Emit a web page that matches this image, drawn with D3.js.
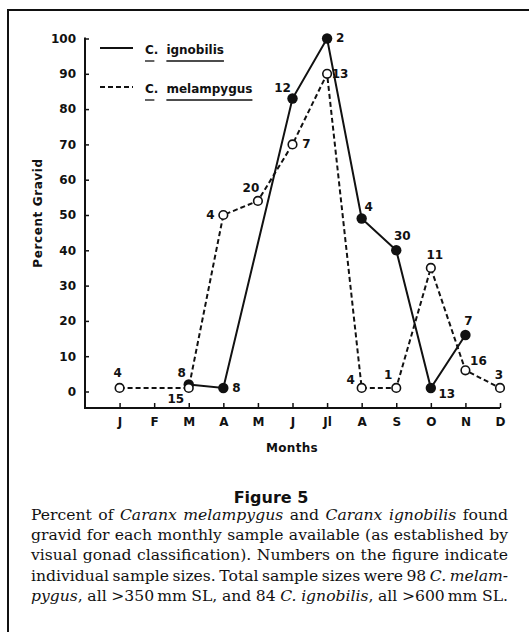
<!DOCTYPE html>
<html>
<head>
<meta charset="utf-8">
<script src="https://cdn.jsdelivr.net/npm/d3@7"></script>
<style>
  html, body { margin: 0; padding: 0; background: #fff; }
  svg { display: block; }
</style>
</head>
<body>
<svg id="chart" width="529" height="632"></svg>
<script>
// ---------------- data ----------------
const months = ["J", "F", "M", "A", "M", "J", "Jl", "A", "S", "O", "N", "D"];
const yTicks = [0, 10, 20, 30, 40, 50, 60, 70, 80, 90, 100];

// C. ignobilis (solid line, filled dots): month index, percent gravid, sample size
const ignobilisMonth = [2, 3, 5, 6, 7, 8, 9, 10];
const ignobilisValue = [2, 1, 83, 100, 49, 40, 1, 16];
const ignobilisN     = ["8", "8", "12", "2", "4", "30", "13", "7"];

// C. melampygus (dashed line, open circles)
const melampygusMonth = [0, 2, 3, 4, 5, 6, 7, 8, 9, 10, 11];
const melampygusValue = [1, 1, 50, 54, 70, 90, 1, 1, 35, 6, 1];
const melampygusN     = ["4", "15", "4", "20", "7", "13", "4", "1", "11", "16", "3"];

// label placement offsets (annotation layout, in px relative to the point)
const ignobilisLabelOffset  = [[-7,-11],[13,0],[-10,-11],[13,-1],[7,-12],[6,-14],[16,6],[3,-14]];
const melampygusLabelOffset = [[-2,-15],[-13,11],[-13,0],[-7,-13],[14,0],[13,0],[-11,-8],[-8,-13],[4,-13],[13,-9],[-1,-13]];

const legendItems = [
  { genus: "C.", species: "ignobilis", dash: null },
  { genus: "C.", species: "melampygus", dash: "5,3" }
];

const captionTitle = "Figure 5";
// each line: list of words; each word: list of [text, italic]
const captionLines = [
  [[["Percent",0]],[["of",0]],[["Caranx",1]],[["melampygus",1]],[["and",0]],[["Caranx",1]],[["ignobilis",1]],[["found",0]]],
  [[["gravid",0]],[["for",0]],[["each",0]],[["monthly",0]],[["sample",0]],[["available",0]],[["(as",0]],[["established",0]],[["by",0]]],
  [[["visual",0]],[["gonad",0]],[["classification).",0]],[["Numbers",0]],[["on",0]],[["the",0]],[["figure",0]],[["indicate",0]]],
  [[["individual",0]],[["sample",0]],[["sizes.",0]],[["Total",0]],[["sample",0]],[["sizes",0]],[["were",0]],[["98",0]],[["C.",1]],[["melam-",1]]],
  [[["pygus",1],[",",0]],[["all",0]],[[">350\u2009mm",0]],[["SL,",0]],[["and",0]],[["84",0]],[["C.",1]],[["ignobilis",1],[",",0]],[["all",0]],[[">600\u2009mm",0]],[["SL.",0]]]
];

// ---------------- drawing ----------------
const svg = d3.select("#chart");
const ink = "#111";
const sans = "'DejaVu Sans', sans-serif";

// frame (top and left rules)
svg.append("line").attr("x1", 7).attr("x2", 529).attr("y1", 10).attr("y2", 10)
  .attr("stroke", ink).attr("stroke-width", 2);
svg.append("line").attr("x1", 8).attr("x2", 8).attr("y1", 9).attr("y2", 632)
  .attr("stroke", ink).attr("stroke-width", 2);

const x = d3.scaleLinear().domain([-1, 11]).range([85, 500]);
const y = d3.scaleLinear().domain([0, 100]).range([391.5, 38.5]);
const axisY = 408;

// y axis
const gy = svg.append("g").attr("transform", `translate(${x(-1)},0)`)
  .call(d3.axisLeft(y).tickValues(yTicks).tickSizeInner(-4).tickSizeOuter(0).tickPadding(9));
gy.select(".domain").remove();
gy.append("line").attr("x1", 0).attr("x2", 0).attr("y1", y(100) - 1).attr("y2", axisY)
  .attr("stroke", ink).attr("stroke-width", 2);
gy.selectAll(".tick line").attr("stroke", ink).attr("stroke-width", 1.5);
gy.selectAll(".tick text").attr("font-family", sans).attr("font-weight", "bold")
  .attr("font-size", 12).attr("fill", ink);

// x axis
const gx = svg.append("g").attr("transform", `translate(0,${axisY})`)
  .call(d3.axisBottom(x).tickValues(d3.range(months.length)).tickFormat(i => months[i])
    .tickSizeInner(-5).tickSizeOuter(0).tickPadding(9));
gx.select(".domain").remove();
gx.append("line").attr("x1", x(-1) - 1).attr("x2", x(11)).attr("y1", 0).attr("y2", 0)
  .attr("stroke", ink).attr("stroke-width", 2);
gx.selectAll(".tick line").attr("stroke", ink).attr("stroke-width", 1.5);
gx.selectAll(".tick text").attr("font-family", sans).attr("font-weight", "bold")
  .attr("font-size", 12).attr("fill", ink);

// axis titles
svg.append("text").attr("x", 292).attr("y", 452).attr("text-anchor", "middle")
  .attr("font-family", sans).attr("font-weight", "bold").attr("font-size", 12)
  .attr("letter-spacing", 0.3).attr("fill", ink).text("Months");
svg.append("text").attr("transform", "translate(42,213) rotate(-90)").attr("text-anchor", "middle")
  .attr("font-family", sans).attr("font-weight", "bold").attr("font-size", 12)
  .attr("letter-spacing", 0.6).attr("fill", ink).text("Percent Gravid");

// series
const ign = ignobilisMonth.map((m, i) => ({ m, v: ignobilisValue[i], n: ignobilisN[i], o: ignobilisLabelOffset[i] }));
const mel = melampygusMonth.map((m, i) => ({ m, v: melampygusValue[i], n: melampygusN[i], o: melampygusLabelOffset[i] }));
const line = d3.line().x(d => x(d.m)).y(d => y(d.v));

svg.append("path").datum(mel).attr("d", line).attr("fill", "none")
  .attr("stroke", ink).attr("stroke-width", 2).attr("stroke-dasharray", "5,3");
svg.append("path").datum(ign).attr("d", line).attr("fill", "none")
  .attr("stroke", ink).attr("stroke-width", 2);

svg.selectAll(".ign").data(ign).enter().append("circle")
  .attr("cx", d => x(d.m)).attr("cy", d => y(d.v)).attr("r", 5.2).attr("fill", ink);
svg.selectAll(".mel").data(mel).enter().append("circle")
  .attr("cx", d => x(d.m)).attr("cy", d => y(d.v)).attr("r", 4.3)
  .attr("fill", "#fff").attr("stroke", ink).attr("stroke-width", 1.6);

const labelData = ign.concat(mel);
svg.selectAll(".lbl").data(labelData).enter().append("text")
  .attr("x", d => x(d.m) + d.o[0]).attr("y", d => y(d.v) + d.o[1])
  .attr("text-anchor", "middle").attr("dominant-baseline", "central")
  .attr("font-family", sans).attr("font-weight", "bold").attr("font-size", 12)
  .attr("fill", ink).text(d => d.n);

// legend
const lg = svg.selectAll(".legend").data(legendItems).enter().append("g")
  .attr("transform", (d, i) => `translate(0,${48 + i * 39})`);
lg.append("line").attr("x1", 100).attr("x2", 133).attr("y1", 0).attr("y2", 0)
  .attr("stroke", ink).attr("stroke-width", 2).attr("stroke-dasharray", d => d.dash);
lg.each(function(d) {
  const g = d3.select(this);
  const t1 = g.append("text").attr("x", 145).attr("y", 6)
    .attr("font-family", sans).attr("font-weight", "bold").attr("font-size", 12).attr("fill", ink)
    .text(d.genus);
  const w1 = t1.node().getComputedTextLength();
  const sx = 145 + w1 + 8;
  const t2 = g.append("text").attr("x", sx).attr("y", 6)
    .attr("font-family", sans).attr("font-weight", "bold").attr("font-size", 12).attr("fill", ink)
    .text(d.species);
  const w2 = t2.node().getComputedTextLength();
  g.append("line").attr("x1", 145).attr("x2", 145 + w1 - 4).attr("y1", 13).attr("y2", 13)
    .attr("stroke", ink).attr("stroke-width", 1.3);
  g.append("line").attr("x1", sx).attr("x2", sx + w2).attr("y1", 13).attr("y2", 13)
    .attr("stroke", ink).attr("stroke-width", 1.3);
});

// caption
svg.append("text").attr("x", 271).attr("y", 503).attr("text-anchor", "middle")
  .attr("font-family", sans).attr("font-weight", "bold").attr("font-size", 16)
  .attr("fill", ink).text(captionTitle);

const serif = "'DejaVu Serif', serif";
const capX0 = 31, capX1 = 508, capW = capX1 - capX0;
function makeWord(g, word, fs) {
  const t = g.append("text").attr("font-family", serif).attr("font-size", fs).attr("fill", ink);
  word.forEach(([s, it]) => t.append("tspan").attr("font-style", it ? "italic" : "normal").text(s));
  return t;
}
// find a font size so every line fits with reasonable spaces
let fs = 15.8;
const probe = svg.append("g");
for (let k = 0; k < 30; k++) {
  let ok = true;
  captionLines.forEach(ln => {
    let sum = 0;
    ln.forEach(w => { const t = makeWord(probe, w, fs); sum += t.node().getComputedTextLength(); });
    if (sum + (ln.length - 1) * fs * 0.2 > capW) ok = false;
  });
  probe.selectAll("*").remove();
  if (ok) break;
  fs -= 0.2;
}
probe.remove();

const capG = svg.append("g");
captionLines.forEach((ln, li) => {
  const yy = 520 + li * 20.2;
  const words = ln.map(w => makeWord(capG, w, fs).attr("y", yy));
  const widths = words.map(t => t.node().getComputedTextLength());
  const gap = (capW - d3.sum(widths)) / (ln.length - 1);
  let cx = capX0;
  words.forEach((t, i) => { t.attr("x", cx); cx += widths[i] + gap; });
});
</script>
</body>
</html>
